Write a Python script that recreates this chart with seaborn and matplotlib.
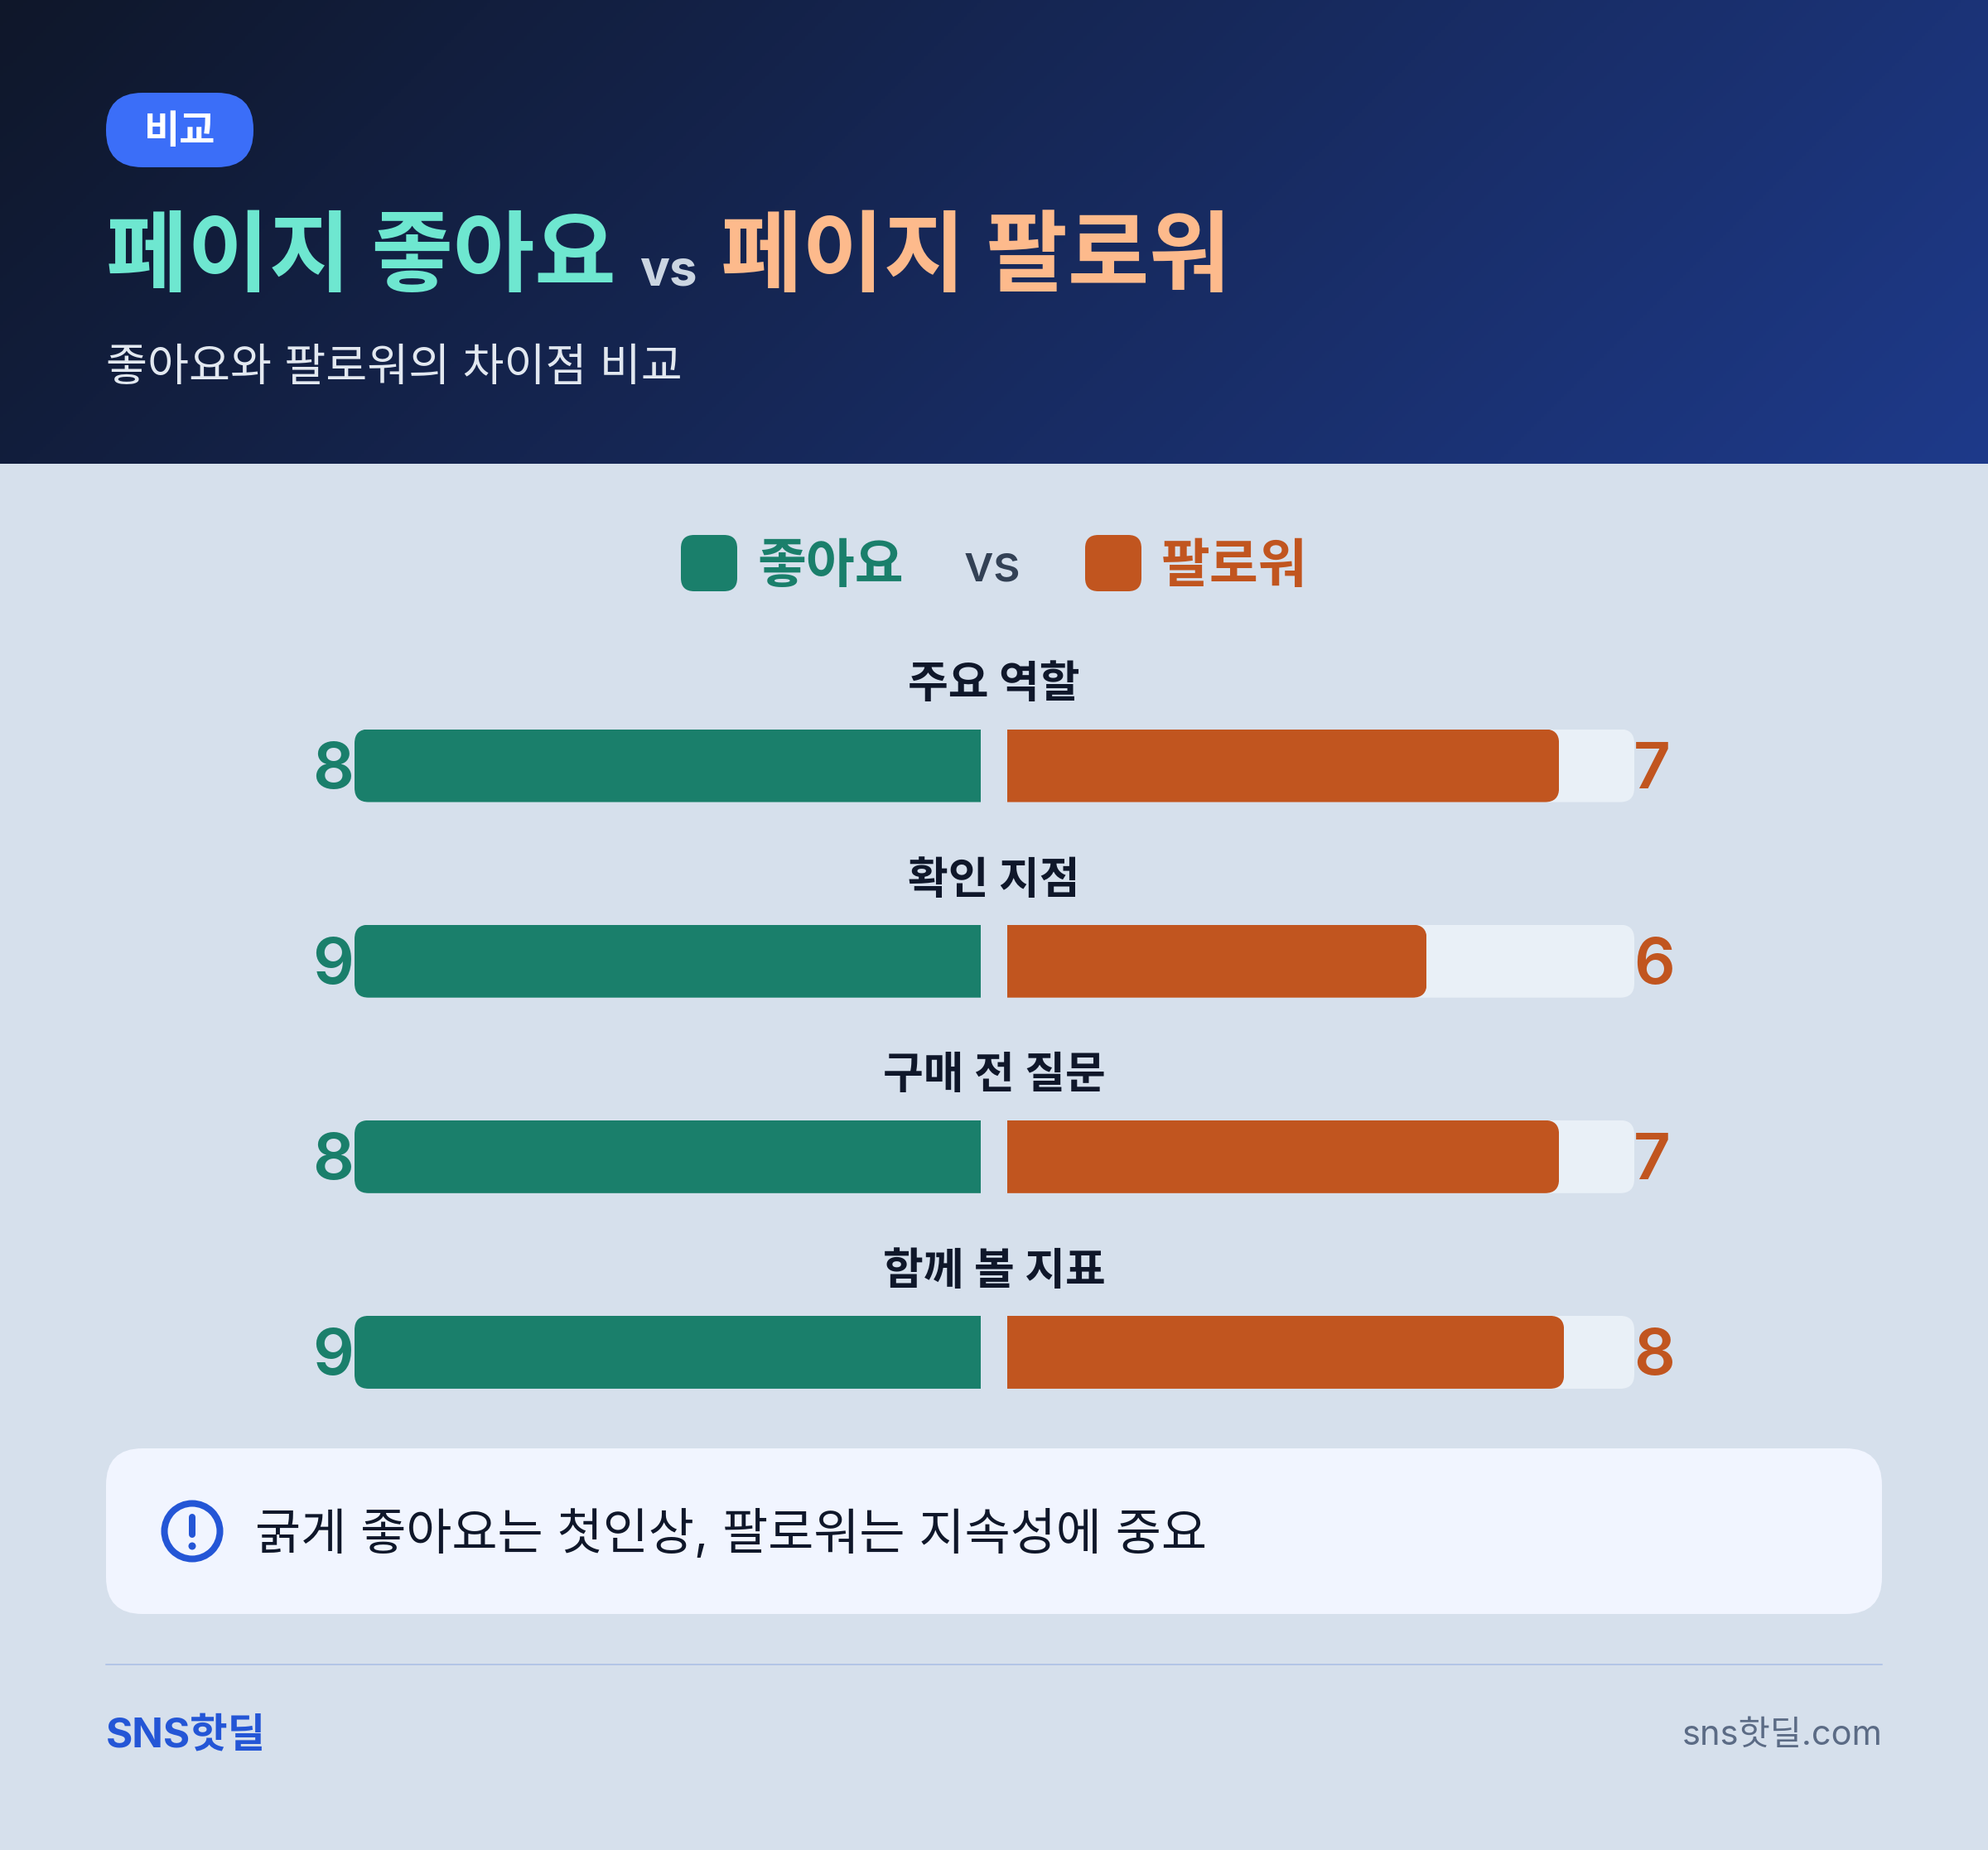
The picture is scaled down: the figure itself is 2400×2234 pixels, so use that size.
import numpy as np
import pandas as pd
import matplotlib
matplotlib.use('Agg')
import matplotlib.pyplot as plt
import seaborn as sns
from matplotlib.colors import to_rgb
from matplotlib.patches import FancyBboxPatch, Circle
from matplotlib.transforms import Bbox

W, H = 2400, 2234

categories = ['주요 역할', '확인 지점', '구매 전 질문', '함께 볼 지표']
like_scores = [8, 9, 8, 9]
follow_scores = [7, 6, 7, 8]
# bar lengths as share of the track
like_share = [100, 100, 100, 100]
follow_share = [88, 66.9, 88, 88.8]
track_share = [100, 100, 100, 100]

GREEN = '#1a7f6b'
ORANGE = '#c1551f'
TRACK = '#e9f0f7'
BG = '#d6e0ec'
BLUE = '#2456d6'
INK = '#0f172a'

sns.set_theme(style='white')
plt.rcParams['font.family'] = ['Inter', 'Noto Sans CJK KR', 'DejaVu Sans']


def px(size):
    # font size in picture pixels to points
    return size * 72 / 200


def rounded(x0, y0, x1, y1, r, **kw):
    return FancyBboxPatch((x0, y0), x1 - x0, y1 - y0,
                          boxstyle=f'round,pad=0,rounding_size={r}', **kw)


fig = plt.figure(figsize=(W / 200, H / 200), dpi=200, facecolor=BG)

# full picture axes in pixel coordinates, for header, legend, note and footer
bg = fig.add_axes([0, 0, 1, 1], zorder=0)
bg.set_xlim(0, W)
bg.set_ylim(H, 0)
bg.axis('off')

# header gradient
gx, gy = np.meshgrid(np.linspace(0, 1, 600), np.linspace(0, 1, 140))
t = np.clip((gx * W + gy * 560) / (W + 560), 0, 1)[..., None]
grad = np.array(to_rgb('#0f172a')) * (1 - t) + np.array(to_rgb('#1e3a8a')) * t
bg.imshow(grad, extent=(0, W, 560, 0), aspect='auto', zorder=1)
bg.set_xlim(0, W)
bg.set_ylim(H, 0)

# header
bg.add_patch(rounded(128, 112, 306, 202, 44, fc='#3b6ef8', ec='none', zorder=2))
bg.text(217, 161, '비교', color='white', fontsize=px(47), fontweight='bold', ha='center', va='center', zorder=3)
bg.text(128, 315, '페이지 좋아요', color='#6ee7d0', fontsize=px(107), fontweight='bold', ha='left', va='center', zorder=3)
bg.text(772, 329, 'vs', color='#cbd5e1', fontsize=px(60), fontweight='bold', ha='left', va='center', zorder=3)
bg.text(870, 315, '페이지 팔로워', color='#fdba8c', fontsize=px(107), fontweight='bold', ha='left', va='center', zorder=3)
bg.text(128, 446, '좋아요와 팔로워의 차이점 비교', color='#e2e8f0', fontsize=px(54.3), ha='left', va='center', zorder=3)

# legend
bg.add_patch(rounded(822, 646, 890, 714, 16, fc=GREEN, ec='none', zorder=2))
bg.text(914, 686, '좋아요', color=GREEN, fontsize=px(64), fontweight='bold', ha='left', va='center', zorder=3)
bg.text(1198, 685, 'vs', color='#334155', fontsize=px(62), fontweight='medium', ha='center', va='center', zorder=3)
bg.add_patch(rounded(1310, 646, 1378, 714, 16, fc=ORANGE, ec='none', zorder=2))
bg.text(1402, 686, '팔로워', color=ORANGE, fontsize=px(64), fontweight='bold', ha='left', va='center', zorder=3)

# note box
bg.add_patch(rounded(128, 1749, 2272, 1949, 44, fc='#f1f5ff', ec='none', zorder=2))
bg.add_patch(Circle((232, 1849), 33.5, fc='none', ec=BLUE, lw=px(8), zorder=3))
bg.plot([232, 232], [1832, 1853], color=BLUE, lw=px(8), solid_capstyle='round', zorder=3)
bg.add_patch(Circle((232, 1867), 4.5, fc=BLUE, ec='none', zorder=3))
bg.text(308, 1853, '굵게 좋아요는 첫인상, 팔로워는 지속성에 중요', color=INK, fontsize=px(60), ha='left', va='center', zorder=3)

# footer
bg.plot([128, 2272], [2010, 2010], color='#b3c5e6', lw=px(2), zorder=2)
bg.text(128, 2096, 'SNS핫딜', color=BLUE, fontsize=px(49.5), fontweight='bold', ha='left', va='center', zorder=3)
bg.text(2273, 2096, 'sns핫딜.com', color='#5b6b85', fontsize=px(41.5), ha='right', va='center', zorder=3)

# bars, one axes per side. y range holds the four rows, 236 px apart
top, bottom = 806.5, 1751
ax_l = fig.add_axes([428 / W, 1 - bottom / H, (1184 - 428) / W, (bottom - top) / H], zorder=1)
ax_r = fig.add_axes([1216 / W, 1 - bottom / H, (1973 - 1216) / W, (bottom - top) / H], zorder=1)

df = pd.DataFrame({'category': categories, 'like': like_share, 'follow': follow_share, 'track': track_share})
bar_h = 88 / 236
sns.barplot(data=df, x='track', y='category', ax=ax_l, color=TRACK, saturation=1, width=bar_h, edgecolor='none')
sns.barplot(data=df, x='like', y='category', ax=ax_l, color=GREEN, saturation=1, width=bar_h, edgecolor='none')
sns.barplot(data=df, x='track', y='category', ax=ax_r, color=TRACK, saturation=1, width=bar_h, edgecolor='none')
sns.barplot(data=df, x='follow', y='category', ax=ax_r, color=ORANGE, saturation=1, width=bar_h, edgecolor='none')

ax_l.set_xlim(100, 0)
ax_r.set_xlim(0, 100)
for ax in (ax_l, ax_r):
    ax.set_ylim(3.5, -0.5)
    ax.axis('off')
    ax.patch.set_visible(False)

# round only the outer end of each bar
to_px = {ax: ax.transData + bg.transData.inverted() for ax in (ax_l, ax_r)}
for ax in (ax_l, ax_r):
    for bar in ax.patches:
        box = Bbox(to_px[ax].transform(bar.get_bbox().get_points()))
        x0, x1 = sorted([box.x0, box.x1])
        y0, y1 = sorted([box.y0, box.y1])
        if ax is ax_l:
            x1 += 40
        else:
            x0 -= 40
        clip = rounded(x0, y0, x1, y1, 17, transform=bg.transData)
        bar.set_clip_path(clip)

# row titles and scores
for i, cat in enumerate(categories):
    ax_l.annotate(str(like_scores[i]), (100, i), xytext=(-1, -7), textcoords='offset pixels', color=GREEN,
                  fontsize=px(78), fontweight='semibold', ha='right', va='center')
    ax_r.annotate(str(follow_scores[i]), (100, i), xytext=(-1, -7), textcoords='offset pixels', color=ORANGE,
                  fontsize=px(78), fontweight='semibold', ha='left', va='center')
    ax_l.annotate(cat, (0, i), xytext=(16, 96), textcoords='offset pixels', color=INK,
                  fontsize=px(53), fontweight='bold', ha='center', va='center')

fig.savefig('out.png', dpi=200, facecolor=BG)
